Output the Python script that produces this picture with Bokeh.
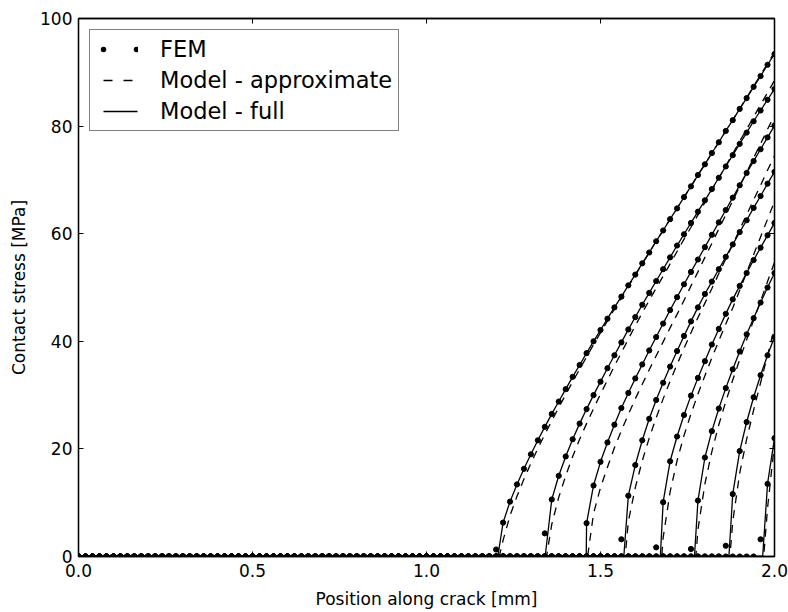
import numpy as np
from bokeh.plotting import figure
from bokeh.models import (Range1d, LinearAxis, FixedTicker, PrintfTickFormatter,
                          CustomJSTickFormatter, Legend, LegendItem)
from bokeh.embed import file_html
from bokeh.resources import INLINE

FONT = "DejaVu Sans"

# ---------------- data ----------------
x_ticks = [0.0, 0.5, 1.0, 1.5, 2.0]
y_ticks = [0, 20, 40, 60, 80, 100]

# FEM nodes along the crack (0.02 mm mesh)
node_x = np.round(np.linspace(0.0, 2.0, 101), 2)

# first FEM node with non-zero contact stress, one per load stage
fem_first = [1.20, 1.34, 1.46, 1.56, 1.66, 1.76, 1.86, 1.96]

fem_c1 = [1.3, 6.3, 10.2, 13.4, 16.3, 19.0, 21.6, 24.1, 26.5, 28.8, 31.1, 33.4, 35.6, 37.8,
          40.0, 42.1, 44.2, 46.3, 48.3, 50.4, 52.4, 54.5, 56.5, 58.6, 60.6, 62.7, 64.7, 66.8,
          68.8, 70.9, 72.9, 75.0, 77.0, 79.1, 81.1, 83.2, 85.2, 87.3, 89.3, 91.4, 93.4]
fem_c2 = [4.3, 10.6, 15.0, 18.6, 21.8, 24.7, 27.4, 30.0, 32.5, 35.0, 37.4, 39.8, 42.2, 44.5,
          46.8, 49.0, 51.2, 53.4, 55.6, 57.8, 59.9, 62.0, 64.1, 66.2, 68.3, 70.4, 72.5, 74.6,
          76.7, 78.8, 80.9, 82.9, 84.9, 86.9]
fem_c3 = [6.2, 13.2, 17.6, 21.2, 24.5, 27.6, 30.4, 33.1, 35.7, 38.3, 40.8, 43.3, 45.8, 48.2,
          50.6, 52.9, 55.2, 57.5, 59.8, 62.1, 64.4, 66.7, 69.0, 71.3, 73.5, 75.7, 77.9, 80.1]
fem_c4 = [3.2, 11.3, 17.0, 21.6, 25.6, 29.1, 32.3, 35.3, 38.2, 41.0, 43.7, 46.3, 48.8, 51.1,
          53.4, 55.7, 58.0, 60.3, 62.5, 64.8, 67.0, 69.3, 71.5]
fem_c5 = [1.7, 10.1, 17.7, 22.3, 26.3, 29.9, 33.2, 36.3, 39.4, 42.3, 45.1, 47.8, 50.3, 52.7,
          55.1, 57.4, 59.7, 62.0]
fem_c6 = [1.4, 10.4, 18.4, 23.3, 27.5, 31.3, 34.8, 38.1, 41.3, 44.3, 47.2, 50.0, 52.7]
fem_c7 = [2.0, 11.6, 19.6, 25.0, 29.6, 33.7, 37.4, 40.8]
fem_c8 = [3.2, 13.5, 22.0]
fem_vals = [fem_c1, fem_c2, fem_c3, fem_c4, fem_c5, fem_c6, fem_c7, fem_c8]

# crack-face closure point of the full model (stress becomes > 0)
full_tip = [1.205, 1.341, 1.459, 1.567, 1.672, 1.770, 1.869, 1.966]

# approximate model: closure point and values at the FEM nodes beyond it
approx_tip = [1.209, 1.345, 1.463, 1.571, 1.676, 1.774, 1.872, 1.969]
approx_c1 = [3.0, 7.6, 11.2, 14.4, 17.3, 20.1, 22.7, 25.2, 27.7, 30.1, 32.5, 34.8, 37.1, 39.4,
             41.6, 43.8, 46.0, 48.1, 50.2, 52.3, 54.4, 56.5, 58.6, 60.6, 62.7, 64.7, 66.8,
             68.8, 70.9, 72.9, 75.0, 77.0, 79.1, 81.1, 83.2, 85.3, 87.4, 89.5, 91.6, 93.7]
approx_c2 = [6.0, 11.0, 15.0, 18.6, 21.8, 24.7, 27.5, 30.2, 32.8, 35.4, 37.9, 40.4, 42.9, 45.3,
             47.6, 49.9, 52.1, 54.4, 56.7, 59.0, 61.2, 63.5, 65.8, 68.1, 70.3, 72.6, 74.9,
             77.2, 79.4, 81.7, 84.0, 86.2, 88.5]
approx_c3 = [8.0, 12.8, 16.6, 20.2, 23.4, 26.4, 29.3, 32.0, 34.7, 37.3, 39.9, 42.5, 45.0,
             47.6, 50.3, 52.9, 55.6, 58.2, 60.9, 63.5, 66.1, 68.8, 71.4, 74.1, 76.7, 79.4, 82.0]
approx_c4 = [6.5, 12.8, 17.8, 22.0, 25.8, 29.3, 32.6, 35.7, 38.7, 41.6, 44.4, 47.1, 49.8,
             52.6, 55.3, 58.0, 60.8, 63.5, 66.3, 69.0, 71.8, 74.5]
approx_c5 = [3.5, 12.0, 17.8, 22.5, 26.5, 30.2, 33.6, 36.9, 40.1, 43.2, 46.2, 49.5, 52.8,
             56.1, 59.4, 62.7, 66.0]
approx_c6 = [5.0, 13.5, 19.5, 24.5, 28.8, 32.8, 36.6, 40.3, 43.9, 47.5, 51.1, 54.7]
approx_c7 = [6.5, 15.5, 21.8, 27.2, 32.3, 37.4, 42.5]
approx_c8 = [9.0, 21.0]
approx_vals = [approx_c1, approx_c2, approx_c3, approx_c4, approx_c5, approx_c6, approx_c7, approx_c8]

legend_labels = ["FEM", "Model - approximate", "Model - full"]

# ---------------- figure ----------------
p = figure(width=788, height=612, output_backend="svg", toolbar_location=None,
           x_range=Range1d(0, 2), y_range=Range1d(0, 100),
           min_border_left=78, min_border_right=14, min_border_top=18, min_border_bottom=56,
           x_axis_label="Position along crack [mm]", y_axis_label="Contact stress [MPa]")
p.background_fill_color = "white"
p.border_fill_color = "white"
p.xgrid.visible = False
p.ygrid.visible = False
p.outline_line_color = "black"
p.outline_line_width = 1.3

step = 0.02
first_full = first_apx = first_fem = None
for k in range(8):
    i0 = int(round(fem_first[k] / step))
    y = np.zeros(len(node_x))
    y[i0:] = fem_vals[k]

    # full model: zero up to closure point, then through the FEM nodes beyond it
    mask = node_x > full_tip[k]
    fx = np.concatenate([[0.0, full_tip[k]], node_x[mask]])
    fy = np.concatenate([[0.0, 0.0], y[mask]])
    p.line(fx, fy, line_color="black", line_width=1.3)

    amask = node_x > approx_tip[k]
    ax = np.concatenate([[0.0, approx_tip[k]], node_x[amask]])
    ay = np.concatenate([[0.0, 0.0], approx_vals[k]])
    p.line(ax, ay, line_color="black", line_width=1.3, line_dash="8 7")

    p.scatter(node_x, y, size=5.2, marker="circle", fill_color="black", line_color="black")
    if k == 0:
        first_full, first_apx, first_fem = (fx, fy), (ax, ay), (node_x, y)

# ---------------- axes ----------------
def style_axis(ax):
    ax.major_tick_in = 5
    ax.major_tick_out = 0
    ax.major_tick_line_color = "black"
    ax.major_tick_line_width = 1
    ax.minor_tick_line_color = None
    ax.axis_line_color = "black"
    ax.axis_line_width = 1.3
    ax.major_label_text_font = FONT
    ax.major_label_text_font_size = "17px"
    ax.major_label_text_color = "black"
    ax.axis_label_text_font = FONT
    ax.axis_label_text_font_size = "17px"
    ax.axis_label_text_font_style = "normal"
    ax.axis_label_text_color = "black"

xa = p.xaxis[0]
ya = p.yaxis[0]
xa.ticker = FixedTicker(ticks=x_ticks)
ya.ticker = FixedTicker(ticks=y_ticks)
xa.formatter = PrintfTickFormatter(format="%.1f")
for a in (xa, ya):
    style_axis(a)
xa.major_label_standoff = 7
xa.axis_label_standoff = 9
ya.major_label_standoff = 6
ya.axis_label_standoff = 8

blank = CustomJSTickFormatter(code="return ''")
top = LinearAxis(ticker=FixedTicker(ticks=x_ticks), formatter=blank)
right = LinearAxis(ticker=FixedTicker(ticks=y_ticks), formatter=blank)
for a in (top, right):
    style_axis(a)
    a.major_label_text_font_size = "0px"
    a.major_label_standoff = 0
p.add_layout(top, "above")
p.add_layout(right, "right")

# ---------------- legend (hidden renderers only style the legend symbols) ----------------
leg_fem = p.line(first_fem[0], first_fem[1], line_color="black", line_width=5.5, line_cap="round",
                 line_dash="0 33 0 400", line_dash_offset=-7, visible=False)
leg_apx = p.line(first_apx[0], first_apx[1], line_color="black", line_width=1.3, line_cap="butt",
                 line_dash="9 11 9 400", line_dash_offset=-7, visible=False)
leg_full = p.line(first_full[0], first_full[1], line_color="black", line_width=1.3, line_cap="butt",
                  line_dash="34 400", line_dash_offset=-7, visible=False)

legend = Legend(items=[LegendItem(label=legend_labels[0], renderers=[leg_fem]),
                       LegendItem(label=legend_labels[1], renderers=[leg_apx]),
                       LegendItem(label=legend_labels[2], renderers=[leg_full])],
                location="top_left", margin=11, padding=6, spacing=5,
                glyph_width=42, glyph_height=24, label_height=24, label_standoff=22,
                label_text_font=FONT, label_text_font_size="22.5px", label_text_color="black",
                border_line_color="black", border_line_width=1.3,
                background_fill_color="white", background_fill_alpha=1.0)
p.add_layout(legend)

open("out.html", "w").write(file_html(p, INLINE))
